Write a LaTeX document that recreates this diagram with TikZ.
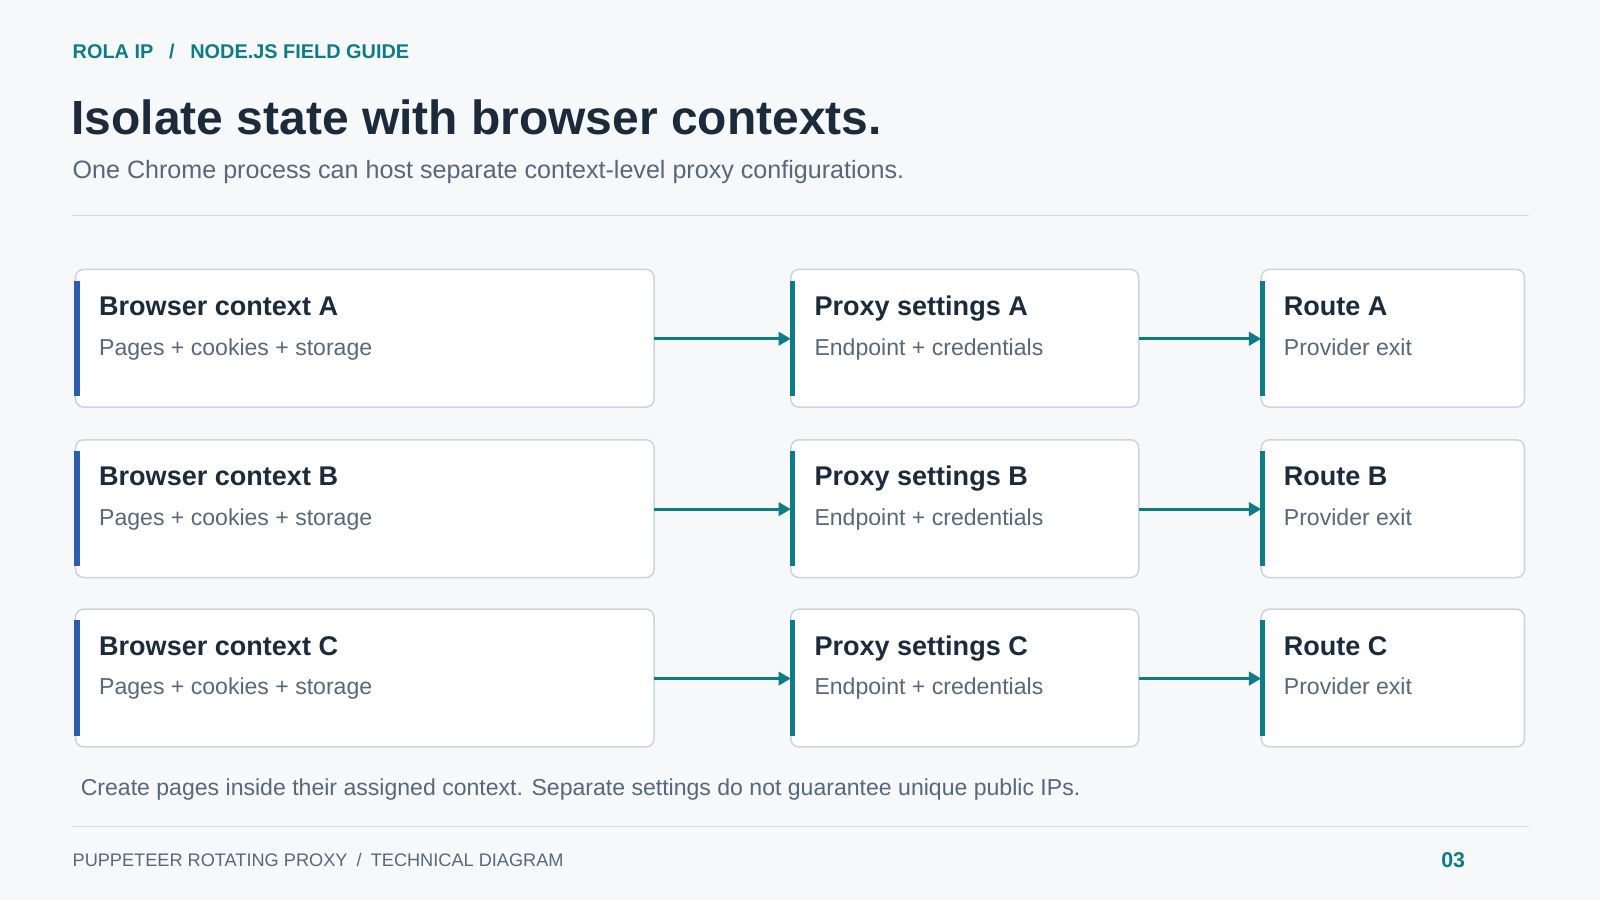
\documentclass[tikz,border=0pt]{standalone}
\usepackage{fontspec}
\setmainfont{Liberation Sans}
\usetikzlibrary{arrows.meta}
\definecolor{bg}{HTML}{F6F8FA}
\definecolor{teal}{HTML}{0E7C86}
\definecolor{ink}{HTML}{1B2B3C}
\definecolor{mute}{HTML}{56687A}
\definecolor{bord}{HTML}{CBD5E0}
\definecolor{blu}{HTML}{2A5DB0}
\definecolor{rule}{HTML}{D3DAE2}
\begin{document}
\begin{tikzpicture}[x=1pt,y=-1pt,every node/.style={inner sep=0pt},
  box/.style={draw=bord,line width=1.5pt,fill=white,rounded corners=8pt},
  ttl/.style={anchor=base west,text=ink,font=\fontsize{26.5}{30}\selectfont\bfseries},
  sub/.style={anchor=base west,text=mute,font=\fontsize{22.6}{26}\selectfont},
  arr/.style={draw=teal,line width=3pt,-{Triangle[length=12pt,width=13pt]}}]
\useasboundingbox[fill=bg] (0,0) rectangle (1568,882);
\node[anchor=base west,text=teal,font=\fontsize{19.5}{22}\selectfont\bfseries] (hd) at (71,57) {ROLA IP \hspace{10pt}/\hspace{10pt} NODE.JS FIELD GUIDE};
\node[anchor=base west,text=ink,font=\fontsize{47}{50}\selectfont\bfseries] (tt) at (70,132) {Isolate state with browser contexts.};
\node[anchor=base west,text=mute,font=\fontsize{24.6}{28}\selectfont] (st) at (71,175) {One Chrome process can host separate context-level proxy configurations.};
\draw[rule,line width=1.5pt] (71,211) -- (1498,211);
\foreach \r/\y in {A/264,B/431,C/597}{
  \draw[box] (74,\y) rectangle (641,\y+135);
  \fill[blu] (73,\y+11) rectangle (78,\y+124);
  \node[ttl] (b\r) at (97,\y+45) {Browser context \r};
  \node[sub] (bs\r) at (97,\y+84) {Pages + cookies + storage};
  \draw[box] (775,\y) rectangle (1116,\y+135);
  \fill[teal] (774,\y+11) rectangle (779,\y+124);
  \node[ttl] (p\r) at (798,\y+45) {Proxy settings \r};
  \node[sub] (ps\r) at (798,\y+84) {Endpoint + credentials};
  \draw[box] (1236,\y) rectangle (1494,\y+135);
  \fill[teal] (1235,\y+11) rectangle (1240,\y+124);
  \node[ttl] (r\r) at (1258,\y+45) {Route \r};
  \node[sub] (rs\r) at (1258,\y+84) {Provider exit};
  \coordinate (o1\r) at (641,\y+68); \coordinate (i2\r) at (775,\y+68);
  \coordinate (o2\r) at (1116,\y+68); \coordinate (i3\r) at (1236,\y+68);
  \draw[arr] (o1\r) -- (i2\r);
  \draw[arr] (o2\r) -- (i3\r);
}
\node[anchor=base west,text=mute,font=\fontsize{22.6}{26}\selectfont] (nt) at (79,780) {Create pages inside their assigned context. Separate settings do not guarantee unique public IPs.};
\draw[rule,line width=1.5pt] (71,810) -- (1498,810);
\node[anchor=base west,text=mute,font=\fontsize{17.8}{20}\selectfont] (ft) at (71,849) {PUPPETEER ROTATING PROXY \hspace{4pt}/\hspace{4pt} TECHNICAL DIAGRAM};
\node[anchor=base east,text=teal,font=\fontsize{21}{24}\selectfont\bfseries] (pg) at (1436,850) {03};
\end{tikzpicture}
\end{document}
